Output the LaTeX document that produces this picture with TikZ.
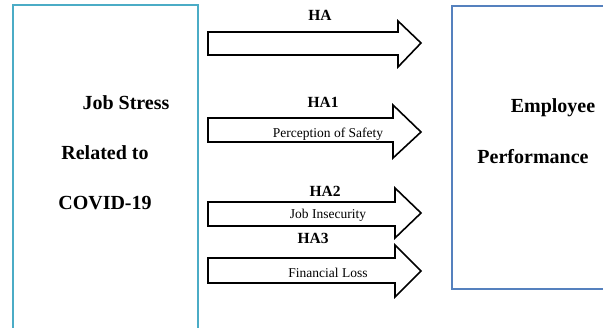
\documentclass[tikz,border=0pt]{standalone}
\usepackage{fontspec}
\setmainfont{Liberation Serif}
\definecolor{leftblue}{HTML}{4BACC6}
\definecolor{rightblue}{HTML}{5581BE}
\begin{document}
\begin{tikzpicture}[x=1pt,y=-1pt,
  bigtext/.style={font=\fontsize{20}{24}\selectfont\bfseries, inner sep=0pt},
  hlabel/.style={font=\fontsize{15.5}{18}\selectfont\bfseries, inner sep=0pt},
  intext/.style={font=\fontsize{13.5}{16}\selectfont, inner sep=0pt},
  fatarrow/.style={draw=black, line width=1.6pt, fill=white, line join=miter}]
\useasboundingbox (0,0) rectangle (603,327);
\begin{scope}
\clip (0,0) rectangle (603,327);
\draw[leftblue, line width=1.8pt] (13,5) rectangle (198,340);
\draw[rightblue, line width=1.8pt] (452,6) rectangle (615,289);
\end{scope}
% left texts
\node[bigtext] (js) at (126,103) {Job Stress};
\node[bigtext] (rt) at (105,153) {Related to};
\node[bigtext] (cv) at (105,203) {COVID-19};
% right texts
\node[bigtext] (emp) at (553,108) {Employee};
\node[bigtext] (perf) at (533,157) {Performance};
% arrow HA
\draw[fatarrow] (208,32) -- (398,32) -- (398,21) -- (421,43) -- (398,67) -- (398,55) -- (208,55) -- cycle;
\node[hlabel] (ha) at (320,15) {HA};
% arrow HA1
\draw[fatarrow] (208,118) -- (393,118) -- (393,105) -- (421,132) -- (393,158) -- (393,142) -- (208,142) -- cycle;
\node[hlabel] (ha1) at (323,102) {HA1};
\node[intext] (ps) at (328,134) {Perception of Safety};
% arrow HA2
\draw[fatarrow] (208,202) -- (395,202) -- (395,188) -- (421,213) -- (395,238) -- (395,226) -- (208,226) -- cycle;
\node[hlabel] (ha2) at (325,191) {HA2};
\node[intext] (ji) at (328,215) {Job Insecurity};
% arrow HA3
\draw[fatarrow] (208,258) -- (395,258) -- (395,245) -- (421,271) -- (395,297) -- (395,283) -- (208,283) -- cycle;
\node[hlabel] (ha3) at (313,238) {HA3};
\node[intext] (fl) at (328,273) {Financial Loss};
\end{tikzpicture}
\end{document}
